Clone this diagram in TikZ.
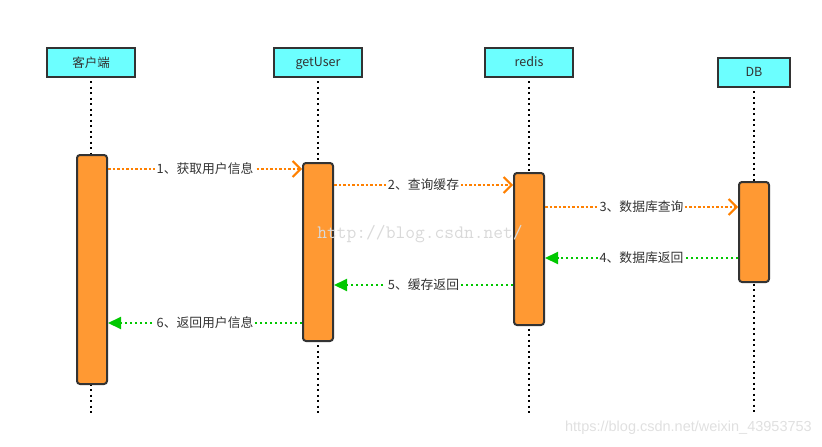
\documentclass[tikz,border=0pt]{standalone}
\usepackage{fontspec}
\newfontfamily\cjk{Noto Sans CJK SC}
\newfontfamily\wmsans{Liberation Sans}
\usetikzlibrary{arrows.meta}
\definecolor{hdr}{HTML}{6CFFFF}
\definecolor{act}{HTML}{FF9933}
\definecolor{edge}{HTML}{333333}
\definecolor{req}{HTML}{FF8000}
\definecolor{ret}{HTML}{00C800}
\definecolor{txt}{HTML}{333333}
\tikzset{
  header/.style={draw=edge, line width=2pt, fill=hdr, minimum height=29pt, minimum width=88pt, inner sep=0pt, font=\cjk\fontsize{12.5}{14}\selectfont, text=txt, text depth=1pt},
  actbox/.style={draw=edge, line width=2pt, fill=act, rounded corners=3pt, minimum width=30pt, inner sep=0pt},
  life/.style={line width=2pt, black, dash pattern=on 2pt off 3.5pt},
  reqarrow/.style={req, line width=2pt, dash pattern=on 2.5pt off 2pt, -{Straight Barb[length=8pt,width=16pt,line width=2pt]}},
  retarrow/.style={ret, line width=2pt, dash pattern=on 2.5pt off 2.5pt, -{Triangle[length=13pt,width=12pt]}},
  lbl/.style={fill=white, inner sep=1.5pt, font=\cjk\fontsize{12.8}{14}\selectfont, text=txt}
}
\begin{document}
\begin{tikzpicture}[x=1pt,y=-1pt]
\useasboundingbox (0,0) rectangle (822,447);
% headers
\node[header] (h1) at (91,62.5) {客户端};
\node[header] (h2) at (318,62.5) {getUser};
\node[header] (h3) at (529,62.5) {redis};
\node[header, minimum width=72pt] (h4) at (754,72.5) {DB};
% lifeline ends
\coordinate (e1) at (91,414);
\coordinate (e2) at (318,414);
\coordinate (e3) at (529,414);
\coordinate (e4) at (754,414);
\draw[life] ([yshift=-3pt]h1.south) -- (e1);
\draw[life] ([yshift=-3pt]h2.south) -- (e2);
\draw[life] ([yshift=-3pt]h3.south) -- (e3);
\draw[life] ([yshift=-3pt]h4.south) -- (e4);
% activations
\node[actbox, minimum height=229pt] (a1) at (92,269.5) {};
\node[actbox, minimum height=178pt] (a2) at (318,252) {};
\node[actbox, minimum height=152pt] (a3) at (529,249) {};
\node[actbox, minimum height=100pt] (a4) at (754,232) {};
% watermark in the middle
\node[text=black!15, font=\ttfamily\fontsize{19}{19}\selectfont, inner sep=0pt] (wm1) at (420,234) {http://blog.csdn.net/};
% messages
\draw[reqarrow] (a1.east |- 0,169) -- node[lbl] (m1) {1、获取用户信息} (a2.west |- 0,169);
\draw[reqarrow] (a2.east |- 0,185) -- node[lbl] (m2) {2、查询缓存} (a3.west |- 0,185);
\draw[reqarrow] (a3.east |- 0,207) -- node[lbl] (m3) {3、数据库查询} (a4.west |- 0,207);
\draw[retarrow] (a4.west |- 0,258) -- node[lbl] (m4) {4、数据库返回} (a3.east |- 0,258);
\draw[retarrow] (a3.west |- 0,285) -- node[lbl] (m5) {5、缓存返回} (a2.east |- 0,285);
\draw[retarrow] (a2.west |- 0,323) -- node[lbl] (m6) {6、返回用户信息} (a1.east |- 0,323);
% bottom watermark
\node[text=black!12, font=\wmsans\fontsize{14.5}{16}\selectfont, inner sep=0pt, anchor=east] (wm2) at (812,428) {https://blog.csdn.net/weixin\_43953753};
\end{tikzpicture}
\end{document}
